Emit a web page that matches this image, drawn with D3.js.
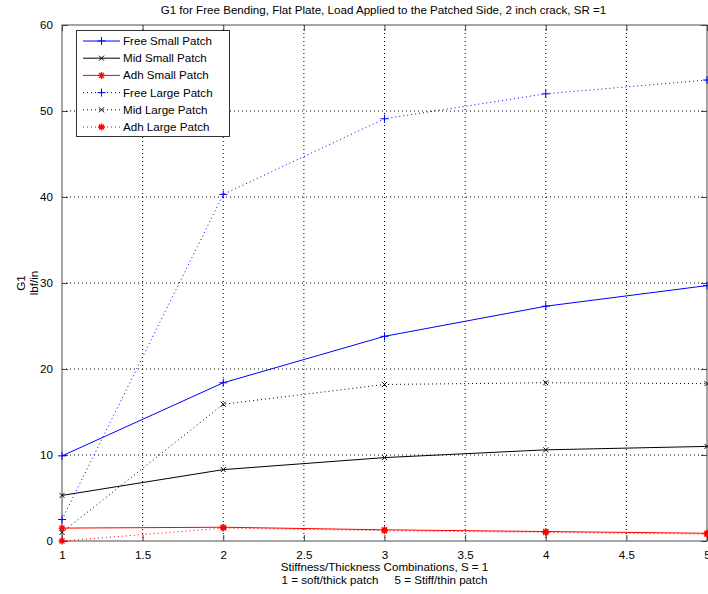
<!DOCTYPE html>
<html><head><meta charset="utf-8">
<script src="https://cdn.jsdelivr.net/npm/d3@7"></script>
<style>
body{margin:0;background:#fff;}
text{font-family:"Liberation Sans",Arial,sans-serif;fill:#000;}
</style></head>
<body><svg id="c" width="708" height="594"></svg>
<script>
const xValues = [1, 2, 3, 4, 5];
const freeSmall = [9.9, 18.4, 23.8, 27.3, 29.7];
const midSmall  = [5.3, 8.3, 9.7, 10.6, 11.0];
const adhSmall  = [1.5, 1.6, 1.3, 1.1, 0.9];
const freeLarge = [2.5, 40.3, 49.1, 52.0, 53.6];
const midLarge  = [1.0, 15.9, 18.2, 18.4, 18.3];
const adhLarge  = [0.0, 1.5, 1.2, 1.0, 0.8];
const seriesNames = ["Free Small Patch","Mid Small Patch","Adh Small Patch","Free Large Patch","Mid Large Patch","Adh Large Patch"];
const xTicks = [1, 1.5, 2, 2.5, 3, 3.5, 4, 4.5, 5];
const yTicks = [0, 10, 20, 30, 40, 50, 60];

const series = [
  {name: seriesNames[0], values: freeSmall, color: "#0000ff", dash: null, marker: "plus"},
  {name: seriesNames[1], values: midSmall,  color: "#000000", dash: null, marker: "x"},
  {name: seriesNames[2], values: adhSmall,  color: "#ff0000", dash: null, marker: "star"},
  {name: seriesNames[3], values: freeLarge, color: "#0000ff", dash: "1,3", marker: "plus"},
  {name: seriesNames[4], values: midLarge,  color: "#000000", dash: "1,3", marker: "x"},
  {name: seriesNames[5], values: adhLarge,  color: "#ff0000", dash: "1,3", marker: "star"}
];

const FS = 11.6;
const svg = d3.select("#c");
const L = 62, R = 707, T = 25, B = 541;
const x = d3.scaleLinear().domain([1, 5]).range([L, R]);
const y = d3.scaleLinear().domain([0, 60]).range([B, T]);

// grid
const grid = svg.append("g");
xTicks.slice(1, -1).forEach(t => grid.append("line")
  .attr("x1", x(t)).attr("x2", x(t)).attr("y1", T).attr("y2", B)
  .attr("stroke", "#000").attr("stroke-width", 1).attr("stroke-dasharray", "1,3"));
yTicks.slice(1, -1).forEach(t => grid.append("line")
  .attr("x1", L).attr("x2", R).attr("y1", y(t)).attr("y2", y(t))
  .attr("stroke", "#000").attr("stroke-width", 1).attr("stroke-dasharray", "1,3"));

// box
svg.append("rect").attr("x", L).attr("y", T).attr("width", R - L).attr("height", B - T)
  .attr("fill", "none").attr("stroke", "#6a6a6a").attr("stroke-width", 1.2);

// axes
const xAxis = d3.axisBottom(x).tickValues(xTicks).tickSizeInner(-6).tickSizeOuter(0).tickPadding(10)
  .tickFormat(d => d3.format("")(d));
const gx = svg.append("g").attr("transform", `translate(0,${B})`).call(xAxis);
const xAxisTop = d3.axisTop(x).tickValues(xTicks).tickSizeInner(-6).tickSizeOuter(0).tickFormat("");
const gxt = svg.append("g").attr("transform", `translate(0,${T})`).call(xAxisTop);
const yAxis = d3.axisLeft(y).tickValues(yTicks).tickSizeInner(-6).tickSizeOuter(0).tickPadding(9);
const gy = svg.append("g").attr("transform", `translate(${L},0)`).call(yAxis);
const yAxisR = d3.axisRight(y).tickValues(yTicks).tickSizeInner(-6).tickSizeOuter(0).tickFormat("");
const gyr = svg.append("g").attr("transform", `translate(${R},0)`).call(yAxisR);
[gx, gxt, gy, gyr].forEach(g => {
  g.select(".domain").remove();
  g.selectAll(".tick line").attr("stroke", "#444");
  g.selectAll("text").attr("font-size", FS).attr("fill", "#000")
    .attr("font-family", "'Liberation Sans',Arial,sans-serif");
});

// marker drawing
function drawMarker(g, type, cx, cy, color) {
  if (type === "plus") {
    g.append("path").attr("d", `M${cx-4},${cy}H${cx+4}M${cx},${cy-4}V${cy+4}`)
      .attr("stroke", color).attr("stroke-width", 1).attr("fill", "none");
  } else if (type === "x") {
    g.append("path").attr("d", `M${cx-2.5},${cy-2.5}L${cx+2.5},${cy+2.5}M${cx-2.5},${cy+2.5}L${cx+2.5},${cy-2.5}`)
      .attr("stroke", color).attr("stroke-width", 1).attr("fill", "none");
  } else {
    const r = 3.5, d = r * 0.72;
    g.append("path").attr("d", `M${cx-r},${cy}H${cx+r}M${cx},${cy-r}V${cy+r}M${cx-d},${cy-d}L${cx+d},${cy+d}M${cx-d},${cy+d}L${cx+d},${cy-d}`)
      .attr("stroke", color).attr("stroke-width", 1.3).attr("fill", "none");
  }
}

const line = d3.line().x(d => x(d[0])).y(d => y(d[1]));
const plot = svg.append("g");
series.forEach(s => {
  const pts = xValues.map((xv, i) => [xv, s.values[i]]);
  plot.append("path").datum(pts).attr("d", line).attr("fill", "none")
    .attr("stroke", s.color).attr("stroke-width", 1)
    .attr("stroke-dasharray", s.dash);
  pts.forEach(p => drawMarker(plot, s.marker, x(p[0]), y(p[1]), s.color));
});

// legend
const lg = svg.append("g");
lg.append("rect").attr("x", 76.5).attr("y", 30.5).attr("width", 153).attr("height", 106)
  .attr("fill", "#fff").attr("stroke", "#333").attr("stroke-width", 1);
series.forEach((s, i) => {
  const yy = 41 + i * 17.2;
  lg.append("line").attr("x1", 83).attr("x2", 120).attr("y1", yy).attr("y2", yy)
    .attr("stroke", s.color).attr("stroke-width", 1).attr("stroke-dasharray", s.dash);
  drawMarker(lg, s.marker, 101.5, yy, s.color);
  lg.append("text").attr("x", 123).attr("y", yy + 4).attr("font-size", FS).text(s.name);
});

// titles
svg.append("text").attr("x", (L + R) / 2 - 1).attr("y", 14).attr("text-anchor", "middle")
  .attr("font-size", FS).text("G1 for Free Bending, Flat Plate, Load Applied to the Patched Side, 2 inch crack, SR =1");
svg.append("text").attr("x", (L + R) / 2).attr("y", 571).attr("text-anchor", "middle")
  .attr("font-size", FS).text("Stiffness/Thickness Combinations, S = 1");
svg.append("text").attr("x", (L + R) / 2).attr("y", 584).attr("text-anchor", "middle")
  .attr("font-size", FS).attr("xml:space", "preserve").style("white-space", "pre")
  .text("1 = soft/thick patch     5 = Stiff/thin patch");
const yl = svg.append("text").attr("transform", `translate(25,${(T + B) / 2}) rotate(-90)`)
  .attr("text-anchor", "middle").attr("font-size", FS);
yl.append("tspan").attr("x", 0).attr("dy", 0).text("G1");
yl.append("tspan").attr("x", 0).attr("dy", 13).text("lbf/in");
</script></body></html>
